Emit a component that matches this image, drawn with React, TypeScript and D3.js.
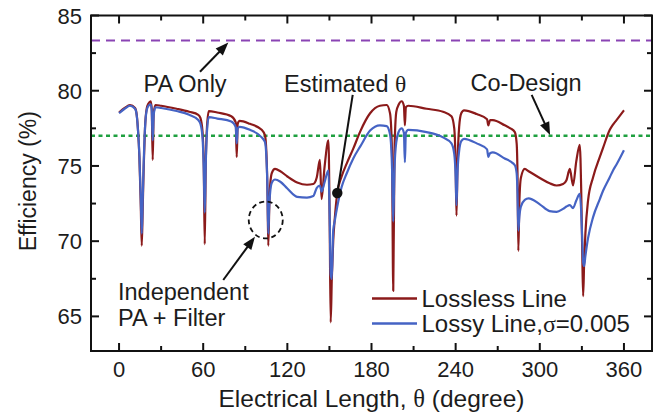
import React from 'react';
import * as d3 from 'd3';

// ---- data ----
const theta = [
  0, 4, 7.8, 11.4, 12.6, 13.5, 14.5, 15.5, 16.2, 16.9, 17.6, 18.5, 19.7, 21, 22.6, 23.3, 24, 24.7, 26, 30,
  41, 50, 56.5, 58, 59.5, 60.4, 61.1, 61.8, 62.7, 64, 70, 80, 83.2, 83.9, 84.6, 86, 93.3, 101.7, 104, 105,
  105.8, 106.4, 107.1, 107.8, 109, 111.2, 115, 120, 127, 134, 138.5, 141, 143.2, 144.4, 146.5, 149.3, 150.2, 150.9, 151.7, 152.7,
  153.9, 155.5, 158.7, 162.3, 167, 172, 179, 186, 190.8, 193.2, 194.6, 195.5, 196.4, 197.7, 199.5, 201.5, 203.1, 203.8, 204.5, 206.2,
  219.3, 231, 237, 239, 240, 240.6, 241.3, 242.5, 244, 246, 255, 262.4, 263.3, 264.5, 266.5, 275, 279, 282.2, 283.5, 284.1,
  284.7, 285.4, 286.5, 289.3, 292, 300, 307, 312, 316.6, 319, 321.4, 323.7, 326, 328.5, 329.5, 330.3, 330.9, 331.6, 332.5, 334.4,
  338, 342.8, 345.1, 349.9, 352.2, 354.7, 360,
];
const lossless = [
  78.55, 78.85, 79.05, 78.85, 78.4, 77.4, 75.6, 72.3, 69.7, 72.3, 75.0, 77.5, 78.8, 79.15, 79.3, 78.8, 75.4, 78.5, 79.05, 79.0,
  78.8, 78.6, 78.4, 78.2, 77.3, 75.0, 69.8, 75.0, 77.6, 78.65, 78.55, 78.3, 77.9, 75.6, 77.8, 78.0, 77.8, 77.4, 77.05, 76.0,
  73.5, 69.7, 72.2, 73.8, 74.55, 74.8, 74.65, 74.3, 73.9, 73.75, 73.8, 74.25, 75.4, 72.8, 74.9, 76.7, 71.0, 64.6, 67.5, 70.0,
  71.6, 73.15, 74.3, 75.15, 76.15, 77.3, 78.5, 79.0, 79.05, 78.5, 76.0, 66.7, 76.0, 78.6, 79.1, 79.3, 79.0, 77.7, 78.9, 79.0,
  78.8, 78.6, 78.3, 77.5, 75.0, 71.7, 75.0, 77.6, 78.5, 78.7, 78.45, 78.1, 77.7, 78.05, 78.05, 77.7, 77.5, 77.25, 76.5, 74.5,
  69.35, 72.5, 74.2, 74.8, 74.65, 74.2, 73.85, 73.7, 73.8, 74.05, 74.8, 73.7, 75.3, 76.4, 73.5, 69.0, 66.35, 68.5, 70.5, 72.7,
  74.25, 75.6, 76.2, 77.4, 77.75, 78.05, 78.7,
];
const lossy = [
  78.5, 78.8, 79.0, 78.8, 78.35, 77.4, 75.7, 72.8, 70.5, 72.8, 75.3, 77.5, 78.7, 79.0, 79.1, 78.7, 76.7, 78.4, 78.9, 78.85,
  78.65, 78.4, 78.05, 77.8, 76.9, 74.8, 71.9, 75.0, 77.3, 78.25, 78.15, 77.95, 77.6, 76.5, 77.5, 77.6, 77.4, 76.9, 76.6, 75.7,
  73.5, 70.5, 72.4, 73.3, 73.9, 74.1, 73.95, 73.5, 72.95, 72.9, 73.0, 73.55, 73.7, 73.3, 73.9, 74.7, 71.5, 67.8, 67.5, 70.7,
  71.4, 72.25, 73.6, 74.5, 75.5, 76.3, 77.35, 77.7, 77.65, 77.1, 75.0, 71.3, 74.8, 76.6, 77.3, 77.5, 77.2, 75.25, 77.2, 77.4,
  77.25, 76.9, 76.5, 75.8, 74.3, 72.4, 74.5, 76.0, 76.65, 76.8, 76.5, 76.1, 75.6, 75.85, 75.9, 75.5, 75.3, 75.05, 74.5, 73.2,
  70.7, 71.6, 72.3, 72.75, 72.85, 72.45, 72.0, 71.95, 72.15, 72.3, 72.4, 72.2, 72.7, 73.15, 72.0, 70.0, 68.6, 68.35, 69.0, 70.2,
  71.6, 72.8, 73.35, 74.25, 74.7, 75.1, 76.05,
];

const xMajor = [0, 60, 120, 180, 240, 300, 360];
const xMinor = [30, 90, 150, 210, 270, 330];
const yMajor = [65, 70, 75, 80, 85];
const yMinor = [67.5, 72.5, 77.5, 82.5];

const paOnlyEff = 83.33;
const coDesignEff = 77.0;
const estimated = { theta: 155.6, eff: 73.2 };

const seriesNames = ['Lossless Line', 'Lossy Line,'];
const seriesColors = ['#8b1a1a', '#4563c4'];

// ---- layout ----
const W = 663;
const H = 419;
const left = 91, right = 652, top = 15.5, bottom = 351;
const FONT = 'Liberation Sans, Arial, Helvetica, sans-serif';
const SERIF = 'Liberation Serif, DejaVu Serif, Times New Roman, serif';
const TXT = '#1c1c1c';
const ANN = 23.5;

function Arrow({ x1, y1, x2, y2 }: { x1: number; y1: number; x2: number; y2: number }) {
  const dx = x2 - x1, dy = y2 - y1;
  const L = Math.hypot(dx, dy);
  const ux = dx / L, uy = dy / L;
  const hl = 13, hw = 5;
  const bx = x2 - ux * hl, by = y2 - uy * hl;
  const px = -uy, py = ux;
  return (
    <g>
      <line x1={x1} y1={y1} x2={bx + ux * 2} y2={by + uy * 2} stroke="#111" strokeWidth={2} />
      <polygon
        points={`${x2},${y2} ${bx + px * hw},${by + py * hw} ${bx - px * hw},${by - py * hw}`}
        fill="#111"
      />
    </g>
  );
}

export default function App() {
  const x = d3.scaleLinear().domain([-20, 380]).range([left, right]);
  const y = d3.scaleLinear().domain([62.7, 85]).range([bottom, top]);

  const mk = (vals: number[]) =>
    d3
      .line<number>()
      .x((_, i) => x(theta[i]))
      .y((v) => y(v))
      .curve(d3.curveMonotoneX)(vals) as string;

  const redPath = mk(lossless);
  const bluePath = mk(lossy);

  const majorLen = 8, minorLen = 5;

  return (
    <svg
      width={W}
      height={H}
      viewBox={`0 0 ${W} ${H}`}
      style={{ position: 'absolute', left: 0, top: 0, background: '#fff' }}
      fontFamily={FONT}
    >
      <rect x={0} y={0} width={W} height={H} fill="#fff" />

      {/* reference lines */}
      <line x1={left} x2={right} y1={y(paOnlyEff)} y2={y(paOnlyEff)} stroke="#8a44b4" strokeWidth={2} strokeDasharray="9,6" />
      <line x1={left} x2={right} y1={y(coDesignEff)} y2={y(coDesignEff)} stroke="#1fa040" strokeWidth={2.5} strokeDasharray="4,3.5" />

      {/* curves */}
      <path d={redPath} fill="none" stroke={seriesColors[0]} strokeWidth={2.2} strokeLinejoin="round" />
      <path d={bluePath} fill="none" stroke={seriesColors[1]} strokeWidth={2.2} strokeLinejoin="round" />

      {/* frame */}
      <rect x={left} y={top} width={right - left} height={bottom - top} fill="none" stroke="#111" strokeWidth={2} />

      {/* x ticks */}
      {xMajor.map((t) => (
        <g key={'xM' + t}>
          <line x1={x(t)} x2={x(t)} y1={bottom} y2={bottom - majorLen} stroke="#111" strokeWidth={2} />
          <line x1={x(t)} x2={x(t)} y1={top} y2={top + majorLen} stroke="#111" strokeWidth={2} />
          <text x={x(t)} y={377} textAnchor="middle" fontSize={22} fill={TXT}>{t}</text>
        </g>
      ))}
      {xMinor.map((t) => (
        <g key={'xm' + t}>
          <line x1={x(t)} x2={x(t)} y1={bottom} y2={bottom - minorLen} stroke="#111" strokeWidth={2} />
          <line x1={x(t)} x2={x(t)} y1={top} y2={top + minorLen} stroke="#111" strokeWidth={2} />
        </g>
      ))}

      {/* y ticks */}
      {yMajor.map((v) => (
        <g key={'yM' + v}>
          <line x1={left} x2={left + majorLen} y1={y(v)} y2={y(v)} stroke="#111" strokeWidth={2} />
          <line x1={right} x2={right - majorLen} y1={y(v)} y2={y(v)} stroke="#111" strokeWidth={2} />
          <text x={82} y={y(v) + 8} textAnchor="end" fontSize={22} fill={TXT}>{v}</text>
        </g>
      ))}
      {yMinor.map((v) => (
        <g key={'ym' + v}>
          <line x1={left} x2={left + minorLen} y1={y(v)} y2={y(v)} stroke="#111" strokeWidth={2} />
          <line x1={right} x2={right - minorLen} y1={y(v)} y2={y(v)} stroke="#111" strokeWidth={2} />
        </g>
      ))}

      {/* axis titles */}
      <text x={(left + right) / 2} y={407} textAnchor="middle" fontSize={24.5} fill={TXT}>
        Electrical Length, <tspan fontFamily={SERIF}>θ</tspan> (degree)
      </text>
      <text
        transform={`translate(36, ${(top + bottom) / 2 - 2}) rotate(-90)`}
        textAnchor="middle"
        fontSize={23}
        fill={TXT}
      >
        Efficiency (%)
      </text>

      {/* annotations */}
      <text x={x(17.4)} y={y(79.92)} fontSize={ANN} fill={TXT}>PA Only</text>
      <Arrow x1={x(57.7)} y1={y(81.26)} x2={x(77.9)} y2={y(83.2)} />

      <text x={x(117.6)} y={y(79.92)} fontSize={ANN} fill={TXT}>
        Estimated <tspan fontFamily={SERIF}>θ</tspan>
      </text>
      <line x1={x(166.6)} y1={y(79.72)} x2={x(estimated.theta)} y2={y(estimated.eff)} stroke="#111" strokeWidth={2} />
      <circle cx={x(estimated.theta)} cy={y(estimated.eff)} r={5.2} fill="#111" />

      <text x={x(250.6)} y={y(79.95)} fontSize={ANN} fill={TXT}>Co-Design</text>
      <Arrow x1={x(294.2)} y1={y(79.72)} x2={x(307.3)} y2={y(77.05)} />

      <ellipse cx={x(104.6)} cy={y(71.41)} rx={17} ry={18.5} fill="none" stroke="#111" strokeWidth={1.8} strokeDasharray="5,3.5" />
      <Arrow x1={x(74.3)} y1={y(67.42)} x2={x(96.9)} y2={y(70.3)} />
      <text x={x(-0.75)} y={y(66.09)} fontSize={ANN} fill={TXT}>Independent</text>
      <text x={x(-0.75)} y={y(64.36)} fontSize={ANN} fill={TXT}>PA + Filter</text>

      {/* legend */}
      <line x1={372} x2={417} y1={298.5} y2={298.5} stroke={seriesColors[0]} strokeWidth={2.5} />
      <text x={421.5} y={306.5} fontSize={24} fill={TXT}>{seriesNames[0]}</text>
      <line x1={372} x2={417} y1={323.5} y2={323.5} stroke={seriesColors[1]} strokeWidth={2.5} />
      <text x={421.5} y={331.5} fontSize={24} fill={TXT}>
        {seriesNames[1]}<tspan fontFamily={SERIF}>σ</tspan>=0.005
      </text>
    </svg>
  );
}
